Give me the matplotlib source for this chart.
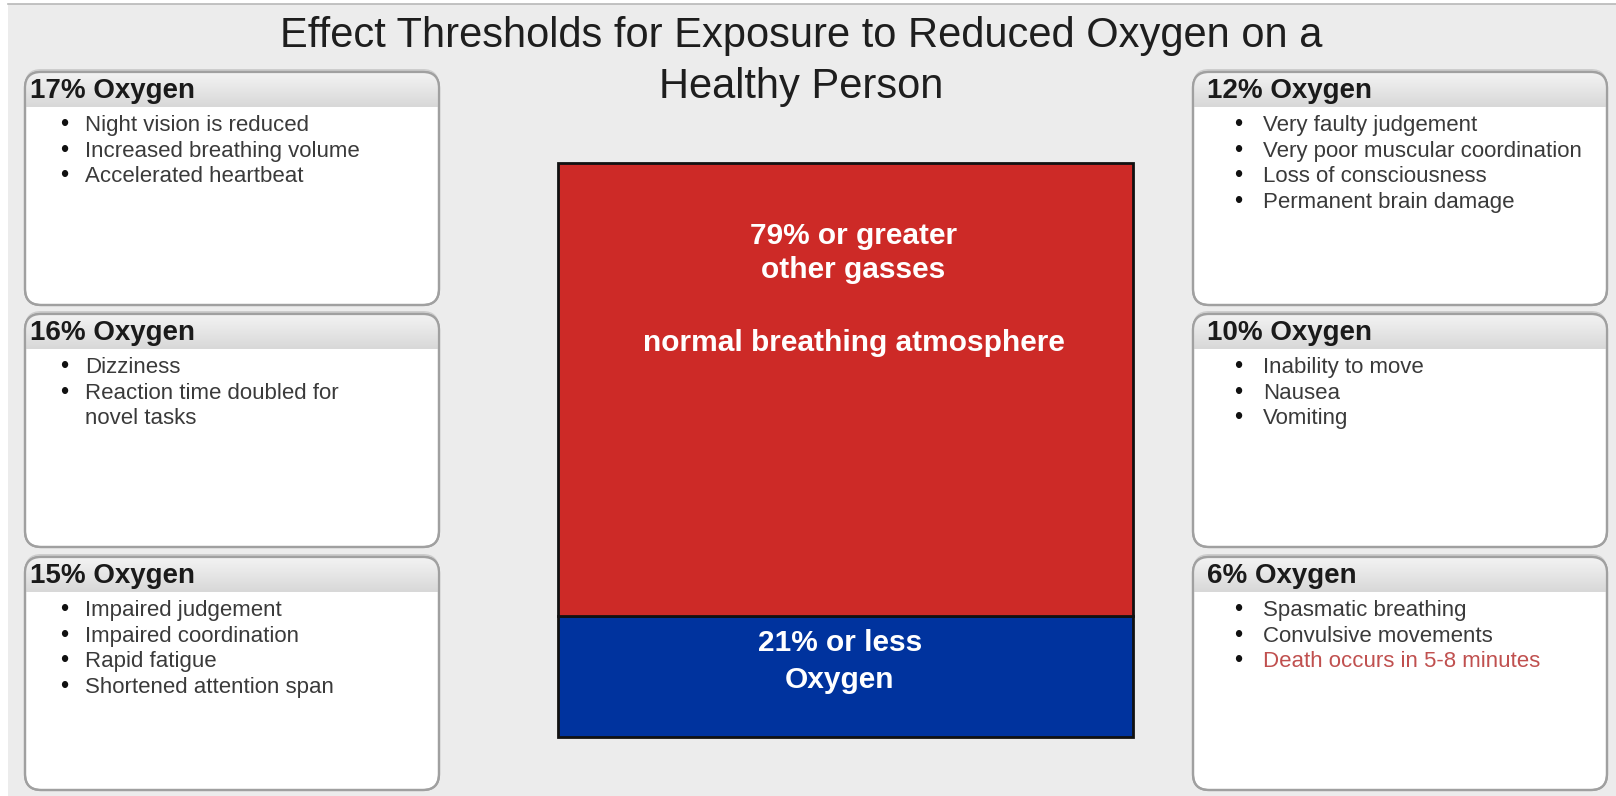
import matplotlib.pyplot as plt
import numpy as np
from matplotlib.patches import FancyBboxPatch, Rectangle
from matplotlib.colors import LinearSegmentedColormap

plt.rcParams['font.family'] = ['Liberation Sans', 'DejaVu Sans']

W, H = 1616, 796

title_lines = ["Effect Thresholds for Exposure to Reduced Oxygen on a",
               "Healthy Person"]

# composition of the air column, bottom to top (percent)
gas_share = [21, 79]
gas_colors = ['#00339E', '#CD2A27']
gas_labels = [["21% or less", "Oxygen"],
              ["79% or greater", "other gasses", "normal breathing atmosphere"]]

left_headers = ["17% Oxygen", "16% Oxygen", "15% Oxygen"]
left_effects = [
    ["Night vision is reduced", "Increased breathing volume", "Accelerated heartbeat"],
    ["Dizziness", "Reaction time doubled for\nnovel tasks"],
    ["Impaired judgement", "Impaired coordination", "Rapid fatigue",
     "Shortened attention span"],
]
right_headers = ["12% Oxygen", "10% Oxygen", "6% Oxygen"]
right_effects = [
    ["Very faulty judgement", "Very poor muscular coordination",
     "Loss of consciousness", "Permanent brain damage"],
    ["Inability to move", "Nausea", "Vomiting"],
    ["Spasmatic breathing", "Convulsive movements", "Death occurs in 5-8 minutes"],
]
fatal = {"Death occurs in 5-8 minutes"}

fig = plt.figure(figsize=(W / 100, H / 100), dpi=100, facecolor='white')
ax = fig.add_axes([0, 0, 1, 1])
ax.set_xlim(0, W)
ax.set_ylim(H, 0)
ax.axis('off')

# page background
ax.add_patch(Rectangle((8, 4), W - 8, H - 4, facecolor='#ECECEC',
                       edgecolor='none', zorder=0))
ax.plot([8, W], [4, 4], color='#B8B8B8', lw=1.2, zorder=1)

ax.text(801, 47, title_lines[0], ha='center', va='baseline',
        fontsize=30, color='#1E1E1E')
ax.text(801, 98, title_lines[1], ha='center', va='baseline',
        fontsize=30, color='#1E1E1E')

header_cmap = LinearSegmentedColormap.from_list('hdr', ['#F3F3F3', '#E6E6E6', '#D8D8D8'])
grad = np.linspace(0, 1, 64).reshape(-1, 1)

box_w, box_h, head_h = 414, 233, 35
row_tops = [72, 314, 557]


def draw_card(x0, y0, header, effects, head_dx, bullet_dx, text_dx):
    shadow = FancyBboxPatch((x0, y0 - 3), box_w, box_h,
                            boxstyle='round,pad=0,rounding_size=16',
                            facecolor='#A8A8A8', edgecolor='none',
                            alpha=0.45, zorder=2)
    ax.add_patch(shadow)
    card = FancyBboxPatch((x0, y0), box_w, box_h,
                          boxstyle='round,pad=0,rounding_size=16',
                          facecolor='white', edgecolor='#A0A0A0',
                          lw=1.6, zorder=3)
    ax.add_patch(card)
    im = ax.imshow(grad, extent=(x0, x0 + box_w, y0 + head_h, y0),
                   cmap=header_cmap, aspect='auto', origin='upper', zorder=3.5)
    im.set_clip_path(card)
    ax.add_patch(FancyBboxPatch((x0, y0), box_w, box_h,
                                boxstyle='round,pad=0,rounding_size=16',
                                facecolor='none', edgecolor='#A0A0A0',
                                lw=1.6, zorder=4))
    ax.text(x0 + head_dx, y0 + 26, header, ha='left', va='baseline',
            fontsize=20, fontweight='bold', color='#1A1A1A', zorder=5)
    y = y0 + 59
    for item in effects:
        color = '#C0504F' if item in fatal else '#3A3A3A'
        ax.text(x0 + bullet_dx, y, '\u2022', ha='left', va='baseline',
                fontsize=17, color='#111111', zorder=5)
        for line in item.split('\n'):
            ax.text(x0 + text_dx, y, line, ha='left', va='baseline',
                    fontsize=16, color=color, zorder=5)
            y += 25.7


for top, head, eff in zip(row_tops, left_headers, left_effects):
    draw_card(25, top, head, eff, 5, 35, 60)
for top, head, eff in zip(row_tops, right_headers, right_effects):
    draw_card(1193, top, head, eff, 14, 41, 70)

# stacked column showing the make-up of the air
bx0, bx1, by0, by1 = 558, 1133, 163, 737
bax = fig.add_axes([bx0 / W, 1 - by1 / H, (bx1 - bx0) / W, (by1 - by0) / H])
bax.set_xlim(-0.5, 0.5)
bax.set_ylim(0, 100)
bax.axis('off')

bottoms = np.concatenate([[0], np.cumsum(gas_share)[:-1]])
for val, bot, col in zip(gas_share, bottoms, gas_colors):
    bax.bar(0, val, bottom=bot, width=1, color=col, edgecolor='#111111',
            lw=2, clip_on=False)

# oxygen label
o2_bot, o2_val = bottoms[0], gas_share[0]
for line, frac in zip(gas_labels[0], [0.78, 0.47]):
    bax.text(-0.01, o2_bot + o2_val * frac, line, ha='center', va='center',
             fontsize=21.5, fontweight='bold', color='white')
# other gasses label, measured down from the top of the segment
rest_top = bottoms[1] + gas_share[1]
for line, drop in zip(gas_labels[1], [12.7, 18.6, 31.4]):
    bax.text(0.014, rest_top - drop, line, ha='center', va='center',
             fontsize=21.5, fontweight='bold', color='white')

fig.savefig('out.png', dpi=100, facecolor='white')
